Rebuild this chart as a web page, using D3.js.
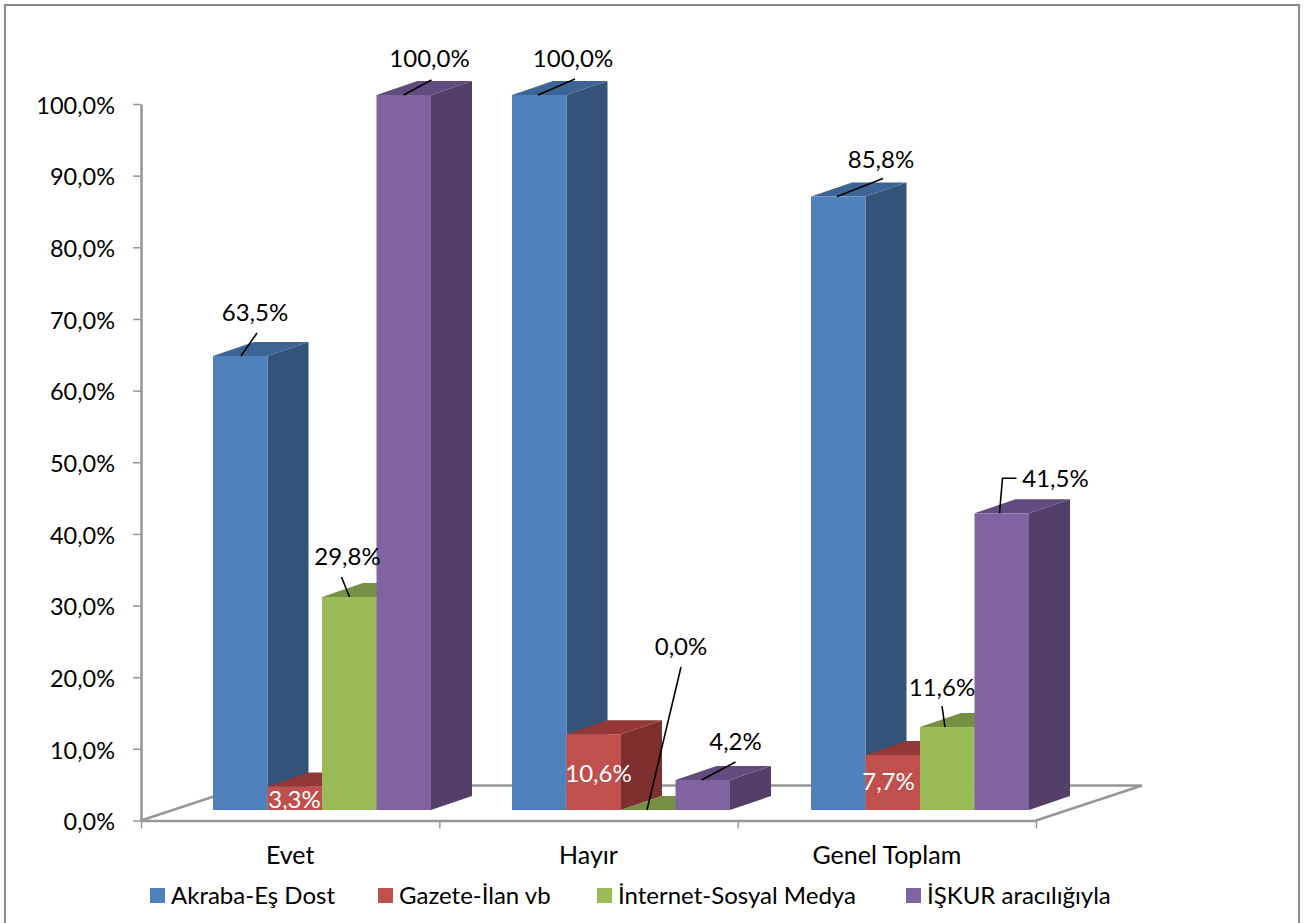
<!DOCTYPE html>
<html>
<head>
<meta charset="utf-8">
<script src="https://cdn.jsdelivr.net/npm/d3@7"></script>
<style>
  html, body { margin: 0; padding: 0; background: #fff; }
  svg { display: block; }
  text { font-family: Lato, "Open Sans", sans-serif; fill: #000; }
</style>
</head>
<body>
<svg id="chart"></svg>
<script>
const categories = ["Evet", "Hayır", "Genel Toplam"];
const seriesNames = ["Akraba-Eş Dost", "Gazete-İlan vb", "İnternet-Sosyal Medya", "İŞKUR aracılığıyla"];
const akraba = [63.5, 100, 85.8];
const gazete = [3.3, 10.6, 7.7];
const internet = [29.8, 0, 11.6];
const iskur = [100, 4.2, 41.5];
const yTicks = [0, 10, 20, 30, 40, 50, 60, 70, 80, 90, 100];

const values = [akraba, gazete, internet, iskur];
const colors = [
  { front: "#4f81bd", side: "#335379", top: "#3c6494" },
  { front: "#c0504d", side: "#7d302e", top: "#933836" },
  { front: "#9bbb59", side: "#637a37", top: "#769043" },
  { front: "#8064a2", side: "#533f69", top: "#624b7e" }
];

// label and leader placement, relative to the front top left corner of each bar
const callouts = [
  [
    { label: [42, -42], leader: [[28, 0], [44, -23]] },
    { label: [27, 14], inside: true },
    { label: [25.5, -39], leader: [[27.5, 0], [19.5, -20]] },
    { label: [53, -35], leader: [[27, 0], [55, -15]] }
  ],
  [
    { label: [61, -35], leader: [[26, 0], [63, -16]] },
    { label: [32, 40], inside: true },
    { label: [60, -162], leader: [[26, 0], [60, -143]] },
    { label: [60, -37], leader: [[26, 0], [60, -18]] }
  ],
  [
    { label: [70, -35.5], leader: [[26, 0], [72, -18]] },
    { label: [23, 28], inside: true },
    { label: [22, -39], leader: [[25, 0], [22, -21]] },
    { label: [81, -34], leader: [[25, 0], [28, -35], [42, -35]] }
  ]
];

const width = 1309, height = 923;
const tickFont = 23.5, labelFont = 24, categoryFont = 25, legendFont = 24;
const axisColor = "#979797";
const depth = { x: 41, y: -14 };
const floorDepth = { x: 106, y: -35 };

const svg = d3.select("#chart").attr("width", width).attr("height", height);
const fmt = v => v.toFixed(1).replace(".", ",") + "%";

svg.append("rect")
  .attr("x", 5).attr("y", 5)
  .attr("width", 1294).attr("height", 930)
  .attr("fill", "#fff")
  .attr("stroke", "#8a8a8a")
  .attr("stroke-width", 2);

// axes
const yAxisScale = d3.scaleLinear().domain([0, 100]).range([820.5, 104]);
const yBar = d3.scaleLinear().domain([0, 100]).range([810, 95]);
const xAxisBand = d3.scaleBand().domain(categories).range([141, 1036]);
const xEdge = d3.scaleLinear().domain([0, 3]).range([141, 1036]);
const xGroup = d3.scaleBand().domain(categories).range([213, 1110]);
const xBar = d3.scaleBand().domain(seriesNames).range([0, 218]);

const floorY = yAxisScale(0);
svg.append("path")
  .attr("d", d3.line()([
    [xEdge(3), floorY],
    [xEdge(3) + floorDepth.x, floorY + floorDepth.y],
    [xEdge(0) + floorDepth.x, floorY + floorDepth.y],
    [xEdge(0), floorY]
  ]))
  .attr("fill", "none")
  .attr("stroke", axisColor)
  .attr("stroke-width", 2.5);

const yAxis = svg.append("g")
  .attr("transform", "translate(141,0)")
  .call(d3.axisLeft(yAxisScale).tickValues(yTicks).tickFormat(fmt).tickSize(8).tickSizeOuter(0).tickPadding(18));
yAxis.selectAll("text").attr("font-size", tickFont).attr("dy", "0.39em");

const xTicks = svg.append("g")
  .attr("transform", `translate(0,${floorY})`)
  .call(d3.axisBottom(xEdge).tickValues([0, 1, 2, 3]).tickFormat("").tickSize(8).tickSizeOuter(0));

const xLabels = svg.append("g")
  .attr("transform", `translate(0,${floorY})`)
  .call(d3.axisBottom(xAxisBand).tickSize(0).tickPadding(26));
xLabels.select(".domain").remove();
xLabels.selectAll("text").attr("font-size", categoryFont).attr("font-family", "Lato");

[yAxis, xTicks].forEach(g => {
  g.selectAll(".domain, line").attr("stroke", axisColor).attr("stroke-width", 2.5);
});
yAxis.selectAll("line").attr("stroke-width", 1.5);
xTicks.selectAll("line").attr("stroke-width", 1.5);

// bars, painted left to right so each one covers the side of the previous one
const bw = xBar.bandwidth();
const poly = d3.line();
const bars = svg.append("g");

categories.forEach((cat, c) => {
  seriesNames.forEach((name, s) => {
    const v = values[s][c];
    const x = xGroup(cat) + xBar(name);
    const y0 = yBar(0), y1 = yBar(v);
    const g = bars.append("g");
    g.append("path")
      .attr("d", poly([[x + bw, y1], [x + bw + depth.x, y1 + depth.y], [x + bw + depth.x, y0 + depth.y], [x + bw, y0]]) + "Z")
      .attr("fill", colors[s].side);
    g.append("path")
      .attr("d", poly([[x, y1], [x + depth.x, y1 + depth.y], [x + bw + depth.x, y1 + depth.y], [x + bw, y1]]) + "Z")
      .attr("fill", colors[s].top);
    g.append("rect")
      .attr("x", x).attr("y", y1)
      .attr("width", bw).attr("height", y0 - y1)
      .attr("fill", colors[s].front);
  });
});

// data labels
const labels = svg.append("g");
categories.forEach((cat, c) => {
  seriesNames.forEach((name, s) => {
    const v = values[s][c];
    const x = xGroup(cat) + xBar(name);
    const y = yBar(v);
    const info = callouts[c][s];
    if (info.leader) {
      labels.append("path")
        .attr("d", poly(info.leader.map(p => [x + p[0], y + p[1]])))
        .attr("fill", "none")
        .attr("stroke", "#000")
        .attr("stroke-width", 1.6);
    }
    labels.append("text")
      .attr("x", x + info.label[0])
      .attr("y", y + info.label[1])
      .attr("dy", "0.31em")
      .attr("text-anchor", "middle")
      .attr("font-size", labelFont)
      .style("fill", info.inside ? "#fff" : "#000")
      .text(fmt(v));
  });
});

// legend
const legendX = d3.scaleOrdinal().domain(seriesNames).range([150, 378, 597, 906]);
const legend = svg.append("g").selectAll("g")
  .data(seriesNames)
  .join("g")
  .attr("transform", d => `translate(${legendX(d)},888)`);
legend.append("rect")
  .attr("width", 15).attr("height", 15)
  .attr("fill", (d, i) => colors[i].front);
legend.append("text")
  .attr("x", 21).attr("y", 7.5)
  .attr("dy", "0.35em")
  .attr("font-size", legendFont)
  .text(d => d);
</script>
</body>
</html>
